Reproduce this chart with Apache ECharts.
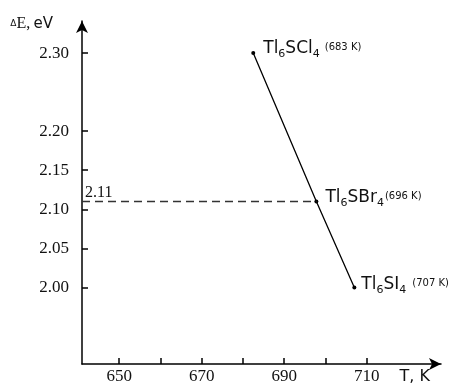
<!DOCTYPE html>
<html>
<head>
<meta charset="utf-8">
<script src="https://cdn.jsdelivr.net/npm/echarts@6/dist/echarts.min.js"></script>
<style>
  html, body { margin: 0; padding: 0; background: #fff; }
  #chart { width: 455px; height: 385px; }
</style>
</head>
<body>
<div id="chart"></div>
<script>
// compounds
const halides = ['Cl', 'Br', 'I'];
const meltTemps = ['683', '696', '707'];
const temps = [682.5, 697.8, 707];
const gaps = [2.30, 2.11, 2.00];

// axis ticks and labels
const xTicks = [650, 660, 670, 680, 690, 700, 710];
const xLabels = [650, 670, 690, 710];
const yTicks = [2.00, 2.05, 2.10, 2.15, 2.20, 2.30];

// dashed guide at the Br point
const guideValue = 2.11;

const serif = 'Liberation Serif';
const sans = 'DejaVu Sans';

const chart = echarts.init(document.getElementById('chart'));

const labelOffsets = [[3, -4], [2, -4], [0, -3]];
const kGaps = [5, 1, 6];

chart.setOption({
  animation: false,
  backgroundColor: '#fff',
  grid: { left: 82, right: 14, top: 21, bottom: 20 },
  xAxis: {
    type: 'value',
    min: 641,
    max: 728,
    name: 'T, K',
    nameLocation: 'end',
    nameGap: 0,
    nameTextStyle: {
      fontFamily: sans,
      fontSize: 16,
      color: '#111',
      align: 'right',
      verticalAlign: 'top',
      padding: [5, 11, 0, 0]
    },
    axisLine: {
      lineStyle: { color: '#000', width: 1.5 },
      symbol: ['none', 'arrow'],
      symbolSize: [9, 12]
    },
    axisTick: {
      inside: true,
      length: 6,
      customValues: xTicks,
      lineStyle: { color: '#000', width: 1.5 }
    },
    axisLabel: {
      customValues: xLabels,
      fontFamily: serif,
      fontSize: 17,
      color: '#111',
      margin: 4
    },
    splitLine: { show: false }
  },
  yAxis: {
    type: 'value',
    min: 1.902,
    max: 2.341,
    name: '{d|Δ}{e|E,} {v|eV}',
    nameLocation: 'end',
    nameGap: 0,
    nameTextStyle: {
      align: 'right',
      verticalAlign: 'middle',
      padding: [6, 29, 0, 0],
      rich: {
        d: { fontFamily: sans, fontSize: 9, color: '#111' },
        e: { fontFamily: serif, fontSize: 16, color: '#111' },
        v: { fontFamily: sans, fontSize: 15, color: '#111' }
      }
    },
    axisLine: {
      lineStyle: { color: '#000', width: 1.5 },
      symbol: ['none', 'arrow'],
      symbolSize: [9, 12]
    },
    axisTick: {
      inside: true,
      length: 6,
      customValues: yTicks,
      lineStyle: { color: '#000', width: 1.5 }
    },
    axisLabel: {
      customValues: yTicks,
      formatter: (v) => v.toFixed(2),
      fontFamily: serif,
      fontSize: 17,
      color: '#111',
      margin: 13
    },
    splitLine: { show: false }
  },
  series: [
    {
      type: 'line',
      data: temps.map((t, i) => ({
        value: [t, gaps[i]],
        label: {
          offset: labelOffsets[i],
          rich: {
            k: { fontFamily: sans, fontSize: 10, color: '#111', padding: [0, 0, 3, kGaps[i]] }
          }
        }
      })),
      symbol: 'circle',
      symbolSize: 4,
      itemStyle: { color: '#000' },
      lineStyle: { color: '#000', width: 1.3 },
      label: {
        show: true,
        position: 'right',
        distance: 5,
        formatter: (p) => '{m|Tl}{s|6}{m|S' + halides[p.dataIndex] + '}{s|4}{k|(' + meltTemps[p.dataIndex] + ' K)}',
        rich: {
          m: { fontFamily: sans, fontSize: 17, color: '#111' },
          s: { fontFamily: sans, fontSize: 11, color: '#111', padding: [11, 0, 0, 0] },
          k: { fontFamily: sans, fontSize: 10, color: '#111', padding: [0, 0, 3, 5] }
        }
      },
      markLine: {
        silent: true,
        symbol: 'none',
        lineStyle: { color: '#333', type: [8, 5], width: 1.3 },
        label: {
          show: true,
          position: 'insideStartTop',
          formatter: guideValue.toFixed(2),
          fontFamily: serif,
          fontSize: 16,
          color: '#111',
          distance: 1,
          padding: [0, 0, 0, 2]
        },
        data: [[{ coord: [641, guideValue] }, { coord: [temps[1], guideValue] }]]
      }
    }
  ]
});
</script>
</body>
</html>
